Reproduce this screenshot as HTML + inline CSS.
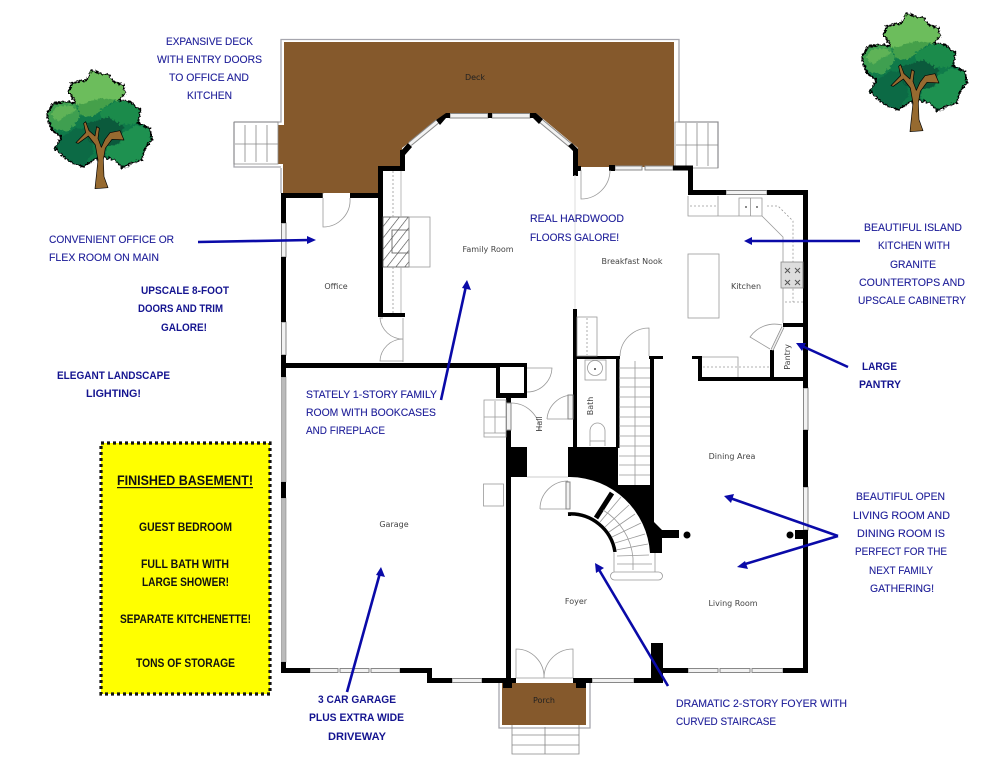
<!DOCTYPE html>
<html><head><meta charset="utf-8"><style>
html,body{margin:0;padding:0;background:#fff;width:995px;height:768px;overflow:hidden}
svg{display:block;filter:blur(.35px)}
.a{font-family:"Liberation Sans",sans-serif;font-size:11.3px;fill:#20209a;stroke:#20209a;stroke-width:.12}
.b{font-family:"Liberation Sans",sans-serif;font-size:11px;font-weight:bold;fill:#141490}
.k{font-family:"Liberation Sans",sans-serif;font-size:11.5px;font-weight:bold;fill:#111}
.r{font-family:"DejaVu Sans",sans-serif;font-size:8px;fill:#444}
.w{fill:#000}
.g{fill:none;stroke:#999;stroke-width:.8}
.win{fill:#f2f2f2;stroke:#888;stroke-width:1}
.arw{stroke:#0a0aa8;stroke-width:2.6;fill:none}
.hd{fill:#0a0aa8}
</style></head><body>
<svg width="995" height="768" viewBox="0 0 995 768" xmlns="http://www.w3.org/2000/svg">
<defs>
<filter id="bump" x="-10%" y="-10%" width="120%" height="120%" color-interpolation-filters="sRGB"><feTurbulence type="fractalNoise" baseFrequency="0.14" numOctaves="2" seed="4"/><feDisplacementMap in="SourceGraphic" scale="15" xChannelSelector="R" yChannelSelector="G"/></filter>
<pattern id="hatch" width="7" height="7" patternUnits="userSpaceOnUse" patternTransform="rotate(38)"><rect width="7" height="7" fill="#fff"/><line x1="0" y1="0" x2="0" y2="7" stroke="#444" stroke-width="1.2"/></pattern>
<g id="tree">
<g filter="url(#bump)">
<path d="M185 30L215 42L235 45L250 65L280 75L285 100L265 120L300 125L330 150L325 190L360 205L365 240L345 265L335 300L300 310L280 325L255 300L215 290L190 300L160 320L130 310L100 290L75 265L95 230L65 210L50 165L70 130L110 125L140 130L115 95L125 70L170 60Z" fill="#0f7a4a" stroke="#000" stroke-width="5" stroke-linejoin="round"/>
<path d="M185 33L215 44L235 47L250 67L278 77L283 100L263 120L215 140L190 160L165 170L142 132L118 95L128 72L170 62Z" fill="#6cbd5c"/>
<path d="M263 118L210 115L165 130L142 135L150 165L190 170L225 140Z" fill="#45a04a"/>
<path d="M53 165L72 132L110 127L140 135L150 170L135 195L110 215L70 208Z" fill="#3f9f50"/>
<path d="M60 165L80 140L120 135L140 150L110 165L85 185Z" fill="#5fb357"/>
<path d="M210 150L265 122L298 127L328 152L322 190L270 195L215 180Z" fill="#1b8b4b"/>
<path d="M240 240L320 195L358 207L362 240L343 265L333 298L300 308L280 320L255 298L225 285Z" fill="#1e9150"/>
<path d="M78 263L98 230L135 205L185 205L190 280L160 318L130 308L100 288Z" fill="#0c6a45"/>
<path d="M170 190L235 170L280 200L270 250L215 265L175 240Z" fill="#0b5a3c"/>
</g>
<path d="M195 386L234 383L222 350L220 300L226 265L246 238L282 240L270 212L240 218L225 238L214 262L204 235L208 205L200 200L195 228L177 212L167 185L161 190L167 218L138 248L145 250L175 228L196 255L204 300Z" fill="#966a30" stroke="#000" stroke-width="2" stroke-linejoin="round"/>
</g>
</defs>

<rect width="995" height="768" fill="#fff"/>

<!-- trees -->
<g transform="translate(30 60) scale(.3333)"><use href="#tree"/></g>
<g transform="translate(845 3) scale(.3333)"><use href="#tree"/></g>

<!-- deck -->
<path d="M234 122H281V39.500H679V122H718V168M281 168V193M234 122V167H281" fill="none" stroke="#a6a6ae" stroke-width="1.300"/>
<path d="M284 42H674V167H578V148L536 113H447L402 148V167H378V193H283V164H278V125H284Z" fill="#85592c"/>
<!-- deck stairs -->
<path d="M234 122H278V164H234ZM245 125V162M256 125V162M267 125V162M235 144H278" fill="none" stroke="#888" stroke-width=".8"/>
<path d="M675 122H718V168H675ZM686 123V166M697 123V166M708 123V166M676 145H718" fill="none" stroke="#888" stroke-width=".8"/>

<!-- windows -->
<rect class="win" x="281.500" y="223" width="4.500" height="34"/>
<rect class="win" x="281.500" y="322" width="4.500" height="33"/>
<rect x="281.500" y="377" width="4.500" height="105" fill="#bbb" stroke="#888" stroke-width=".6"/>
<rect x="281.500" y="498" width="4.500" height="164" fill="#bbb" stroke="#888" stroke-width=".6"/>
<rect class="win" x="450" y="113.500" width="38" height="4.500"/><rect class="win" x="492" y="113.500" width="38" height="4.500"/>
<rect x="488" y="113" width="4" height="5" fill="#000"/>
<rect class="win" x="615" y="166" width="27" height="4"/><rect class="win" x="645" y="166" width="28" height="4"/>
<rect class="win" x="726" y="190.500" width="41" height="4"/>
<rect class="win" x="803.500" y="388" width="4.500" height="42"/>
<rect class="win" x="803.500" y="487" width="4.500" height="43"/>
<rect class="win" x="310" y="668.500" width="28" height="4"/><rect class="win" x="340" y="668.500" width="29" height="4"/><rect class="win" x="371" y="668.500" width="29" height="4"/>
<rect class="win" x="452" y="678.500" width="30" height="4"/>
<rect class="win" x="592" y="678.500" width="42" height="4"/>
<rect class="win" x="688" y="668.500" width="30" height="4"/><rect class="win" x="720" y="668.500" width="30" height="4"/><rect class="win" x="752" y="668.500" width="31" height="4"/>
<path d="M410 144L438 121" stroke="#888" stroke-width="5"/><path d="M410 144L438 121" stroke="#f2f2f2" stroke-width="3"/>
<path d="M541 121L570 145" stroke="#888" stroke-width="5"/><path d="M541 121L570 145" stroke="#f2f2f2" stroke-width="3"/>

<!-- walls -->
<g class="w">
<rect x="281" y="193" width="42" height="5"/><rect x="350" y="193" width="33" height="5"/>
<rect x="281" y="193" width="5" height="30"/><rect x="281" y="257" width="5" height="65"/><rect x="281" y="355" width="5" height="22"/>
<rect x="281" y="482" width="5" height="16"/><rect x="281" y="662" width="5" height="11"/>
<rect x="378" y="167" width="5" height="150"/><rect x="378" y="166" width="27" height="5"/><rect x="400" y="150" width="5" height="21"/>
<rect x="380" y="313" width="25" height="4"/>
<rect x="281" y="363" width="219" height="5"/>
<path d="M496 363H527V398H496ZM500 367V393H524V367Z" fill-rule="evenodd"/>
<path d="M400 152L408 143L412 147L405 155Z"/>
<path d="M436 120L446 113H450V118H446L440 125Z"/>
<path d="M530 113H536L543 119L539 124L533 118H530Z"/>
<path d="M568 146L572 143L578 149V176H573V151Z"/>
<rect x="573" y="166" width="8" height="5"/>
<rect x="609" y="165" width="6" height="6"/>
<rect x="673" y="165.500" width="20" height="5"/><rect x="688" y="166" width="5" height="29"/>
<rect x="688" y="190" width="38" height="5"/><rect x="767" y="190" width="41" height="5"/>
<rect x="803" y="190" width="5" height="198"/><rect x="803" y="430" width="5" height="57"/><rect x="803" y="530" width="5" height="143"/>
<rect x="783" y="323" width="20" height="4"/>
<rect x="770" y="350" width="4" height="28"/>
<rect x="698" y="377" width="110" height="4"/><rect x="698" y="356" width="4" height="25"/><rect x="692" y="356" width="10" height="3"/>
<rect x="573" y="309" width="4" height="138"/><rect x="573" y="356" width="47" height="3"/><rect x="649" y="356" width="14" height="3"/>
<rect x="616" y="358" width="3.500" height="90"/><rect x="650" y="358" width="4" height="130"/>
<path d="M568 447H618V485H654V522L662 530V553H650A81 81 0 0 0 570 477H568Z"/>
<rect x="662" y="530" width="17" height="8"/><circle cx="687" cy="535" r="3.500"/>
<rect x="795" y="530" width="13" height="9"/><circle cx="790" cy="535" r="3.500"/>
<rect x="506" y="398" width="5" height="5"/><rect x="506" y="430" width="5" height="253"/>
<rect x="507" y="447" width="20" height="30"/>
<rect x="281" y="668" width="29" height="5"/><rect x="400" y="668" width="32" height="5"/><rect x="427" y="668" width="5" height="15"/><rect x="427" y="678" width="25" height="5"/>
<rect x="482" y="678" width="34" height="5"/><rect x="573" y="678" width="19" height="5"/><rect x="634" y="678" width="29" height="5"/>
<rect x="651" y="643" width="12" height="40"/><rect x="663" y="668" width="25" height="5"/><rect x="783" y="668" width="25" height="5"/>
<rect x="503" y="678" width="10" height="9"/><rect x="576" y="678" width="10" height="9"/>
</g>
<path d="M568 514A45 45 0 0 1 615 552" fill="none" stroke="#000" stroke-width="3.500"/>
<rect x="568" y="513" width="3" height="3"/>
<path d="M612 493L596 518" stroke="#000" stroke-width="5"/>

<!-- curved stairs -->
<path class="g" d="M600 522L621 497M605 527L629 505M609 532L635 514M612 537L641 523M615 543L645 534M616 550L648 544M617 556L649 555M617 564H652M603 510A63 63 0 0 1 633 558V570M614 553V572M655 553V572"/>
<rect class="g" x="610.500" y="572" width="52" height="8" rx="4"/>
<!-- straight stairs -->
<path d="M619 368H650M619 378H650M619 387H650M619 397H650M619 407H650M619 417H650M619 426H650M619 436H650M619 446H650M619 456H650M619 465H650M619 475H650M635 361V485" stroke="#999" stroke-width=".8" fill="none"/>

<!-- doors -->
<path class="g" d="M323 193V227A27 27 0 0 0 350 198"/><rect x="323" y="194" width="27" height="4" fill="#fff"/>
<path class="g" d="M403 318V362M383 318H380A23 23 0 0 0 403 339A23 23 0 0 0 380 361H403"/>
<path class="g" d="M581 170V199A29 29 0 0 0 610 170"/><path d="M575 175V309" stroke="#ddd" stroke-width="1"/>
<path class="g" d="M649 356V328A29 29 0 0 0 620 356"/>
<path class="g" d="M527 368H552A25 25 0 0 1 527 392"/>
<path class="g" d="M547 419A26 26 0 0 1 573 395M547 419H573"/>
<path class="g" d="M511 403A29 29 0 0 1 540 430"/>
<path class="g" d="M540 509A28 28 0 0 1 568 481M540 509H568M568 481V509"/>
<path class="g" d="M516 678V649A28 28 0 0 1 544 678A29 29 0 0 1 573 649V678M516 678H573"/>
<path d="M783 327L772 350" stroke="#888" stroke-width="3"/><path d="M783 327L772 350" stroke="#eee" stroke-width="1.500"/>
<path class="g" d="M770 349L750 337A30 30 0 0 1 782 325"/>
<rect class="win" x="506.500" y="403" width="4.500" height="27"/>
<rect class="win" x="568" y="395" width="5" height="24"/>
<rect class="win" x="566" y="482" width="4" height="27"/>
<path d="M527 477H568" stroke="#ccc" stroke-width="1"/>

<!-- fireplace & built-ins -->
<rect x="383" y="217" width="26" height="50" fill="url(#hatch)" stroke="#555" stroke-width=".8"/>
<rect x="392" y="230" width="17" height="23" fill="url(#hatch)" stroke="#555" stroke-width=".8"/>
<rect class="g" x="409" y="217" width="21" height="50"/>
<path d="M401 171V217M401 267V313" stroke="#aaa" stroke-width=".8"/>
<path d="M393 171V217M393 267V313" stroke="#999" stroke-width=".8" stroke-dasharray="2 2"/>

<!-- kitchen -->
<path class="g" d="M688 196V216H762L783 237V323M718 196V216M739 198V216H762V198H739ZM719 216"/>
<circle cx="746" cy="207" r="1" fill="#666"/><circle cx="757" cy="207" r="1" fill="#666"/><path class="g" d="M750.500 198V216"/>
<path d="M690 206H718M767 206H778L793 221V302M785 302H803" stroke="#999" stroke-width=".8" fill="none" stroke-dasharray="2 2"/>
<rect x="781" y="262" width="22" height="26" fill="#ddd" stroke="#888" stroke-width=".8"/>
<path d="M785 268L790 273M790 268L785 273M795 268L800 273M800 268L795 273M785 280L790 285M790 280L785 285M795 280L800 285M800 280L795 285" stroke="#555" stroke-width="1"/>
<rect class="g" x="688" y="254" width="31" height="64"/>
<path class="g" d="M702 357H738V377"/><path d="M703 367H770" stroke="#999" stroke-width=".8" stroke-dasharray="2 2"/>
<rect class="g" x="577" y="317" width="20" height="39"/><path d="M587 318V355" stroke="#999" stroke-width=".8" stroke-dasharray="2 2"/>

<!-- bath -->
<rect class="g" x="585" y="360" width="21" height="20"/><circle class="g" cx="595" cy="368" r="7.500"/><circle cx="595" cy="369" r="1" fill="#444"/>
<path class="g" d="M590 446V431A7.500 8 0 0 1 605 431V446M590 441H605"/>
<!-- side stoop & box -->
<path class="g" d="M484 400H506V437H484ZM484 417H506M495 401V433M484 433H506"/>
<rect class="g" x="483.500" y="484" width="20" height="22"/>

<!-- porch -->
<path d="M499 683V728H590V683" fill="none" stroke="#a6a6ae" stroke-width="1.300"/>
<rect x="502" y="683" width="84" height="42" fill="#85592c"/>
<rect x="503" y="683" width="9" height="5" fill="#000"/><rect x="576" y="683" width="10" height="5" fill="#000"/>
<path d="M512 725V754H579V725M512 735H579M512 745H579M545 727V754" fill="none" stroke="#888" stroke-width=".8"/>

<!-- room labels -->
<g class="r">
<text x="475" y="80" text-anchor="middle" fill="#222">Deck</text>
<text x="488" y="252" text-anchor="middle">Family Room</text>
<text x="336" y="289" text-anchor="middle">Office</text>
<text x="632" y="264" text-anchor="middle">Breakfast Nook</text>
<text x="746" y="289" text-anchor="middle">Kitchen</text>
<text x="732" y="459" text-anchor="middle">Dining Area</text>
<text x="733" y="606" text-anchor="middle">Living Room</text>
<text x="576" y="604" text-anchor="middle">Foyer</text>
<text x="394" y="527" text-anchor="middle">Garage</text>
<text x="544" y="703" text-anchor="middle" style="fill:#222">Porch</text>
<text transform="translate(593 406) rotate(-90)" text-anchor="middle">Bath</text>
<text transform="translate(542 424) rotate(-90)" text-anchor="middle">Hall</text>
<text transform="translate(790 357) rotate(-90)" text-anchor="middle">Pantry</text>
</g>

<!-- arrows -->
<path class="arw" d="M198 242L310 240"/><path class="hd" d="M316 240L307 236V244Z"/>
<path class="arw" d="M860 241L750 241"/><path class="hd" d="M744 241L752 237V245Z"/>
<path class="arw" d="M441 400L466 286"/><path class="hd" d="M467 280L462 288L471 290Z"/>
<path class="arw" d="M848 367L802 346"/><path class="hd" d="M796 343L806 343L802 351Z"/>
<path class="arw" d="M838 536L730 498M838 536L742 565"/><path class="hd" d="M724 496L734 494L731 503Z"/><path class="hd" d="M737 567L745 561L748 569Z"/>
<path class="arw" d="M668 686L598 568"/><path class="hd" d="M595 563L596 573L604 568Z"/>
<path class="arw" d="M347 692L380 573"/><path class="hd" d="M381 567L376 575L385 577Z"/>

<!-- callouts -->
<g class="a">
<text x="166" y="45" textLength="87" lengthAdjust="spacingAndGlyphs">EXPANSIVE DECK</text>
<text x="157" y="63" textLength="105" lengthAdjust="spacingAndGlyphs">WITH ENTRY DOORS</text>
<text x="169" y="81" textLength="80" lengthAdjust="spacingAndGlyphs">TO OFFICE AND</text>
<text x="187" y="99" textLength="45" lengthAdjust="spacingAndGlyphs">KITCHEN</text>
<text x="49" y="243" textLength="125" lengthAdjust="spacingAndGlyphs">CONVENIENT OFFICE OR</text>
<text x="49" y="261" textLength="110" lengthAdjust="spacingAndGlyphs">FLEX ROOM ON MAIN</text>
<text x="530" y="222" textLength="94" lengthAdjust="spacingAndGlyphs">REAL HARDWOOD</text>
<text x="530" y="241" textLength="89" lengthAdjust="spacingAndGlyphs">FLOORS GALORE!</text>
<text x="864" y="231" textLength="98" lengthAdjust="spacingAndGlyphs">BEAUTIFUL ISLAND</text>
<text x="878" y="249" textLength="72" lengthAdjust="spacingAndGlyphs">KITCHEN WITH</text>
<text x="890" y="268" textLength="46" lengthAdjust="spacingAndGlyphs">GRANITE</text>
<text x="859" y="286" textLength="106" lengthAdjust="spacingAndGlyphs">COUNTERTOPS AND</text>
<text x="858" y="304" textLength="108" lengthAdjust="spacingAndGlyphs">UPSCALE CABINETRY</text>
<text x="306" y="398" textLength="131" lengthAdjust="spacingAndGlyphs">STATELY 1-STORY FAMILY</text>
<text x="306" y="416" textLength="130" lengthAdjust="spacingAndGlyphs">ROOM WITH BOOKCASES</text>
<text x="306" y="434" textLength="79" lengthAdjust="spacingAndGlyphs">AND FIREPLACE</text>
<text x="856" y="500" textLength="89" lengthAdjust="spacingAndGlyphs">BEAUTIFUL OPEN</text>
<text x="853" y="519" textLength="97" lengthAdjust="spacingAndGlyphs">LIVING ROOM AND</text>
<text x="857" y="537" textLength="88" lengthAdjust="spacingAndGlyphs">DINING ROOM IS</text>
<text x="855" y="555" textLength="92" lengthAdjust="spacingAndGlyphs">PERFECT FOR THE</text>
<text x="869" y="574" textLength="64" lengthAdjust="spacingAndGlyphs">NEXT FAMILY</text>
<text x="870" y="592" textLength="64" lengthAdjust="spacingAndGlyphs">GATHERING!</text>
<text x="676" y="707" textLength="171" lengthAdjust="spacingAndGlyphs">DRAMATIC 2-STORY  FOYER WITH</text>
<text x="676" y="725" textLength="100" lengthAdjust="spacingAndGlyphs">CURVED STAIRCASE</text>
</g>
<g class="b">
<text x="141" y="294" textLength="88" lengthAdjust="spacingAndGlyphs">UPSCALE 8-FOOT</text>
<text x="138" y="312" textLength="85" lengthAdjust="spacingAndGlyphs">DOORS AND TRIM</text>
<text x="161" y="331" textLength="46" lengthAdjust="spacingAndGlyphs">GALORE!</text>
<text x="57" y="379" textLength="113" lengthAdjust="spacingAndGlyphs">ELEGANT LANDSCAPE</text>
<text x="86" y="397" textLength="55" lengthAdjust="spacingAndGlyphs">LIGHTING!</text>
<text x="862" y="370" textLength="35" lengthAdjust="spacingAndGlyphs">LARGE</text>
<text x="859" y="388" textLength="42" lengthAdjust="spacingAndGlyphs">PANTRY</text>
<text x="318" y="703" textLength="78" lengthAdjust="spacingAndGlyphs">3 CAR GARAGE</text>
<text x="309" y="721" textLength="95" lengthAdjust="spacingAndGlyphs">PLUS EXTRA WIDE</text>
<text x="328" y="740" textLength="58" lengthAdjust="spacingAndGlyphs">DRIVEWAY</text>
</g>

<!-- yellow box -->
<rect x="101" y="443" width="169" height="251" fill="#ffff00" stroke="#111" stroke-width="3.200" stroke-dasharray="3 3"/>
<g class="k">
<text x="117" y="485" textLength="136" lengthAdjust="spacingAndGlyphs" style="font-size:13.500px">FINISHED BASEMENT!</text>
<text x="139" y="531" textLength="93" lengthAdjust="spacingAndGlyphs">GUEST BEDROOM</text>
<text x="141" y="568" textLength="88" lengthAdjust="spacingAndGlyphs">FULL BATH WITH</text>
<text x="142" y="586" textLength="87" lengthAdjust="spacingAndGlyphs">LARGE SHOWER!</text>
<text x="120" y="623" textLength="131" lengthAdjust="spacingAndGlyphs">SEPARATE KITCHENETTE!</text>
<text x="136" y="667" textLength="99" lengthAdjust="spacingAndGlyphs">TONS OF STORAGE</text>
</g>
<rect x="117" y="487" width="136" height="1.200" fill="#111"/>
</svg>
</body></html>
